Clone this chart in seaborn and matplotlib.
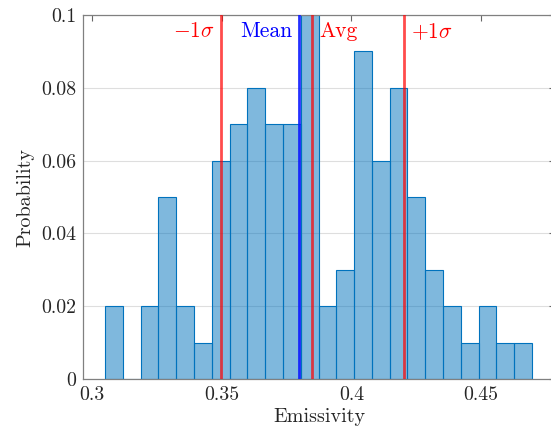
import numpy as np
import pandas as pd
import matplotlib
matplotlib.use("Agg")
import matplotlib.pyplot as plt
import seaborn as sns
from matplotlib.transforms import blended_transform_factory

# ---- data ----
bin_start = 0.305
bin_width = 0.00686
probabilities = [0.02, 0.00, 0.02, 0.05, 0.02, 0.01, 0.06, 0.07, 0.08, 0.07,
                 0.07, 0.12, 0.02, 0.03, 0.09, 0.06, 0.08, 0.05, 0.03, 0.02,
                 0.01, 0.02, 0.01, 0.01]
mean_value = 0.3799
avg_value = 0.3849
minus_sigma = 0.3499
plus_sigma = 0.4204
xtick_values = [0.3, 0.35, 0.4, 0.45]
xtick_labels = ["0.3", "0.35", "0.4", "0.45"]
ytick_values = [0, 0.02, 0.04, 0.06, 0.08, 0.1]
ytick_labels = ["0", "0.02", "0.04", "0.06", "0.08", "0.1"]

sns.set_style("white")
plt.rcParams["font.family"] = "serif"
plt.rcParams["font.serif"] = ["cmr10"]
plt.rcParams["mathtext.fontset"] = "cm"
plt.rcParams["axes.unicode_minus"] = False
plt.rcParams["axes.formatter.use_mathtext"] = True

n = len(probabilities)
centers = bin_start + bin_width * (np.arange(n) + 0.5)
df = pd.DataFrame({"Emissivity": centers, "Probability": probabilities})

fig = plt.figure(figsize=(5.51, 4.40), dpi=100)
ax = fig.add_axes([83 / 551, 61 / 440, 472 / 551, 364 / 440])

matlab_blue = (0, 0.447, 0.741)
sns.histplot(data=df, x="Emissivity", weights="Probability",
             binwidth=bin_width, binrange=(bin_start, bin_start + n * bin_width),
             stat="count", ax=ax, color=matlab_blue, alpha=0.5,
             edgecolor=matlab_blue, linewidth=0.8, zorder=2)

ax.axvline(mean_value, color=(0.05, 0.1, 1.0), lw=2.0, alpha=0.9, zorder=3)
for xv in (minus_sigma, avg_value, plus_sigma):
    ax.axvline(xv, color=(1, 0, 0), lw=2.0, alpha=0.7, zorder=4)

tr = blended_transform_factory(ax.transData, ax.transAxes)
fs_ann = 15.5
ty = 0.955
ax.annotate(r"$-1\sigma$", xy=(minus_sigma, ty), xycoords=tr, xytext=(-5, 0),
            textcoords="offset points", ha="right", va="center", color="red", fontsize=fs_ann)
ax.annotate("Mean", xy=(mean_value, ty), xycoords=tr, xytext=(-5, 0),
            textcoords="offset points", ha="right", va="center", color="blue", fontsize=fs_ann)
ax.annotate("Avg", xy=(avg_value, ty), xycoords=tr, xytext=(5, 0),
            textcoords="offset points", ha="left", va="center", color="red", fontsize=fs_ann)
ax.annotate(r"$+1\sigma$", xy=(plus_sigma, ty), xycoords=tr, xytext=(5, 0),
            textcoords="offset points", ha="left", va="center", color="red", fontsize=fs_ann)

ax.set_xlim(0.2965, 0.4785)
ax.set_ylim(0, 0.1)
ax.set_xticks(xtick_values)
ax.set_xticklabels(xtick_labels)
ax.set_yticks(ytick_values)
ax.set_yticklabels(ytick_labels)

ax.yaxis.grid(True, color=(0.87, 0.87, 0.87), lw=0.8, zorder=0)
ax.xaxis.grid(False)
ax.set_axisbelow(True)

for name, s in ax.spines.items():
    s.set_visible(name != "right")
    s.set_color((0.5, 0.5, 0.5))
    s.set_linewidth(0.9)

ax.tick_params(direction="in", length=4.5, width=0.8, color=(0.4, 0.4, 0.4),
               top=True, right=True, labelsize=14.3, labelcolor=(0.15, 0.15, 0.15), pad=5)

ax.set_xlabel("Emissivity", fontsize=14.5, color=(0.15, 0.15, 0.15), labelpad=3)
ax.set_ylabel("Probability", fontsize=14.5, color=(0.15, 0.15, 0.15), labelpad=5)

fig.savefig("out.png", dpi=100)
